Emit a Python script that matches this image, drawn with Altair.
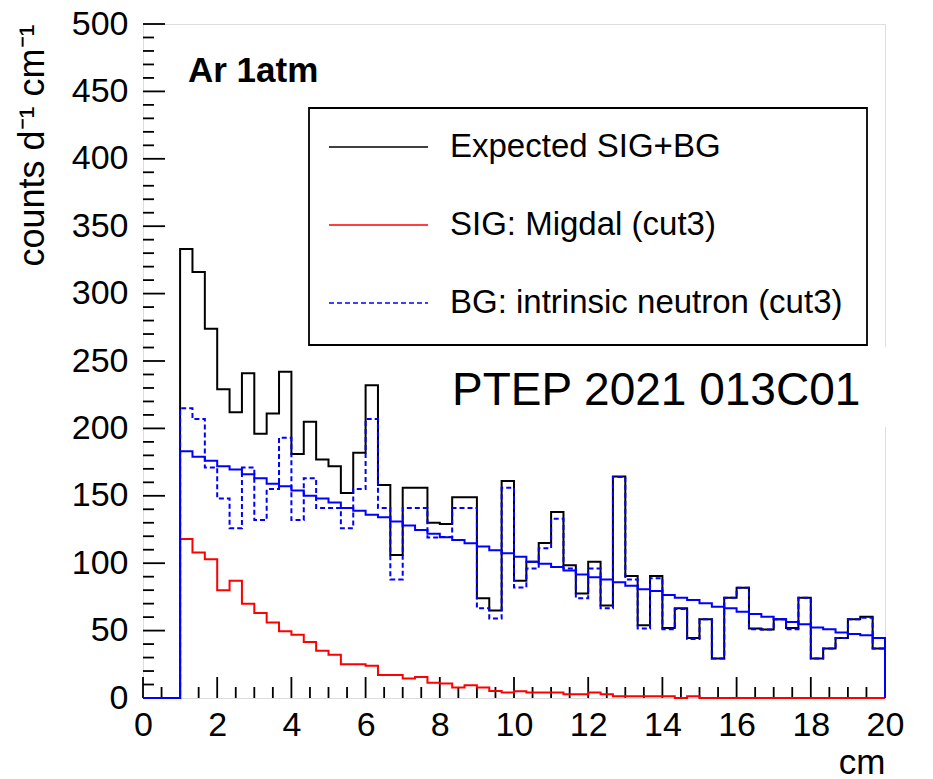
import altair as alt
import pandas as pd

# ---- data: 60 bins of width 1/3 cm from 0 to 20 cm ----
n_bins = 60
bin_width = 1.0 / 3.0

total = [0, 0, 0, 333, 316, 274, 229, 212, 241, 196, 211, 242, 181, 205, 177, 172, 152, 182, 232, 158,
         106, 156, 156, 130, 129, 149, 149, 74, 65, 161, 87, 101, 115, 138, 98.5, 77.6, 101, 68.7, 164.4,
         90.5, 54, 90.5, 52, 66.5, 44.6, 58.5, 29.3, 74.4, 81.8, 51.5, 50.9, 58.5, 52, 74.4, 29.3, 36.7,
         44.6, 58.5, 60.2, 36.7]
sig = [0, 0, 0, 118, 108, 103, 80, 87, 70, 63, 56, 49.5, 47, 41.6, 35, 32, 25, 25, 24, 17,
       17, 14.4, 15.6, 11.4, 10.7, 7.7, 9.4, 7.7, 5.2, 4, 5, 4, 4, 4, 2.7, 2.7, 4, 2.7, 1.3,
       1.3, 1.3, 1.3, 1.3, 0, 1.3, 0, 0, 0, 0, 0, 0, 0, 0, 0, 0, 0,
       0, 0, 0, 0]
bg = [0, 0, 0, 215, 207, 171, 148, 126, 171, 132, 155, 193, 132, 163, 141, 141, 126, 155, 207, 141,
      88, 141, 141, 119, 119.5, 141, 141, 66.5, 59, 156, 82, 96, 111, 133, 96, 74, 96, 66.5, 164,
      88, 51.6, 88.8, 51, 66, 43.8, 58.5, 29.3, 74.4, 81.8, 51, 50.9, 58.5, 51, 74.4, 29.3, 36.7,
      44.6, 58.5, 59.5, 36.7]
bg_fit = [0, 0, 0, 183, 179, 176, 172, 169.5, 166, 163, 159, 157, 154, 150, 148, 145, 141, 139, 136, 134,
          131, 128, 124.7, 121.8, 119.3, 117.3, 114.8, 112.3, 109.6, 107.3, 104.8, 101, 99.6, 97.2, 94.6,
          91.6, 89.5, 88, 85.8, 83.3, 80.6, 79.4, 76.4, 74.4, 72.7, 70.2, 67.7, 66.5, 64, 62.3, 60.2,
          58.5, 56.3, 54.8, 52.3, 51, 48.6, 47.4, 46.6, 44.6]

x_major = [0, 2, 4, 6, 8, 10, 12, 14, 16, 18, 20]
x_minor = [i * 0.5 for i in range(41) if i % 4 != 0]
y_major = [0, 50, 100, 150, 200, 250, 300, 350, 400, 450, 500]
y_minor = [i * 10 for i in range(51) if i % 5 != 0]

legend_labels = ["Expected SIG+BG", "SIG: Migdal (cut3)", "BG: intrinsic neutron (cut3)"]
panel_label = "Ar 1atm"
ref_label = "PTEP 2021 013C01"
x_title = "cm"
y_title = "counts d\u207b\u00b9 cm\u207b\u00b9"

FONT = "Liberation Sans"
W, H = 742, 674


def step_frame(vals):
    rows = []
    for k in range(n_bins):
        rows.append({"i": k, "x": k * bin_width, "y": vals[k]})
    rows.append({"i": n_bins, "x": 20.0, "y": vals[-1]})
    rows.append({"i": n_bins + 1, "x": 20.0, "y": 0.0})
    return pd.DataFrame(rows)


xs = alt.Scale(domain=[0, 20], nice=False, zero=False)
ys = alt.Scale(domain=[0, 500], nice=False, zero=False)

xaxis = alt.Axis(values=x_major, ticks=False, domain=False, grid=False, labelFontSize=34,
                 labelPadding=10, labelFlush=False, labelOverlap=False, labelColor="black",
                 labelFont=FONT, format="d", title=x_title, titleFont=FONT, titleFontSize=35,
                 titleFontWeight="normal", titleColor="black", titleX=W, titleY=75,
                 titleAlign="right", titleBaseline="alphabetic", titleAngle=0)
yaxis = alt.Axis(values=y_major, ticks=False, domain=False, grid=False, labelFontSize=34,
                 labelPadding=15, labelOverlap=False, labelColor="black", labelFont=FONT,
                 format="d", title=y_title, titleFont=FONT, titleFontSize=36,
                 titleFontWeight="normal", titleColor="black", titleX=-100, titleY=0,
                 titleAlign="right", titleBaseline="alphabetic", titleAngle=270)


def X(field):
    return alt.X(field, type="quantitative", scale=xs, axis=xaxis)


def Y(field):
    return alt.Y(field, type="quantitative", scale=ys, axis=yaxis)


def hist(vals, color, dash=None, width=2):
    kw = dict(interpolate="step-after", color=color, strokeWidth=width)
    if dash:
        kw["strokeDash"] = dash
    return alt.Chart(step_frame(vals)).mark_line(**kw).encode(
        x=X("x"), y=Y("y"), order=alt.Order("i:Q"))


layers = []

# inner ticks (drawn first, histograms on top)
layers.append(alt.Chart(pd.DataFrame({"v": x_major})).mark_rule(color="black", strokeWidth=1.8).encode(
    x=X("v"), y=alt.value(H), y2=alt.value(H - 21)))
layers.append(alt.Chart(pd.DataFrame({"v": x_minor})).mark_rule(color="black", strokeWidth=1.8).encode(
    x=X("v"), y=alt.value(H), y2=alt.value(H - 11)))
layers.append(alt.Chart(pd.DataFrame({"v": y_major})).mark_rule(color="black", strokeWidth=1.8).encode(
    y=Y("v"), x=alt.value(0), x2=alt.value(22)))
layers.append(alt.Chart(pd.DataFrame({"v": y_minor})).mark_rule(color="black", strokeWidth=1.8).encode(
    y=Y("v"), x=alt.value(0), x2=alt.value(11)))

layers += [
    hist(total, "black"),
    hist(sig, "#ff0000"),
    hist(bg, "#0000ff", dash=[5, 3]),
    hist(bg_fit, "#0000ff"),
]

one = pd.DataFrame({"a": [0]})

# legend box
layers.append(alt.Chart(one).mark_rect(fill="white", stroke="black", strokeWidth=1.8).encode(
    x=alt.value(166), x2=alt.value(724), y=alt.value(84), y2=alt.value(321)))

leg_colors = ["black", "#ff0000", "#0000ff"]
leg_dash = [None, None, [5, 3]]
leg_y = [123, 201, 279]
for lab, col, dsh, yy in zip(legend_labels, leg_colors, leg_dash, leg_y):
    kw = dict(color=col, strokeWidth=1.6)
    if dsh:
        kw["strokeDash"] = dsh
    layers.append(alt.Chart(one).mark_rule(**kw).encode(
        x=alt.value(186), x2=alt.value(285), y=alt.value(yy)))
    layers.append(alt.Chart(pd.DataFrame({"t": [lab]})).mark_text(
        font=FONT, fontSize=33, align="left", baseline="middle", color="black").encode(
        text="t:N", x=alt.value(307), y=alt.value(yy)))

layers.append(alt.Chart(pd.DataFrame({"t": [panel_label]})).mark_text(
    font=FONT, fontSize=35, fontWeight="bold", align="left", baseline="alphabetic", color="black").encode(
    text="t:N", x=alt.value(45), y=alt.value(58)))

# white patch behind the reference label
layers.append(alt.Chart(one).mark_rect(fill="white", stroke=None).encode(
    x=alt.value(297), x2=alt.value(750), y=alt.value(323), y2=alt.value(403)))
layers.append(alt.Chart(pd.DataFrame({"t": [ref_label]})).mark_text(
    font=FONT, fontSize=46, align="left", baseline="alphabetic", color="black").encode(
    text="t:N", x=alt.value(309), y=alt.value(381)))

chart = alt.layer(*layers).properties(
    width=W, height=H,
    padding={"left": 143, "top": 24, "right": 48, "bottom": 81},
    autosize=alt.AutoSizeParams(type="none"),
    background="white",
).configure_view(stroke="black", strokeWidth=2).configure(font=FONT)

chart.save("out.html", embed_options={"renderer": "svg", "actions": False})
